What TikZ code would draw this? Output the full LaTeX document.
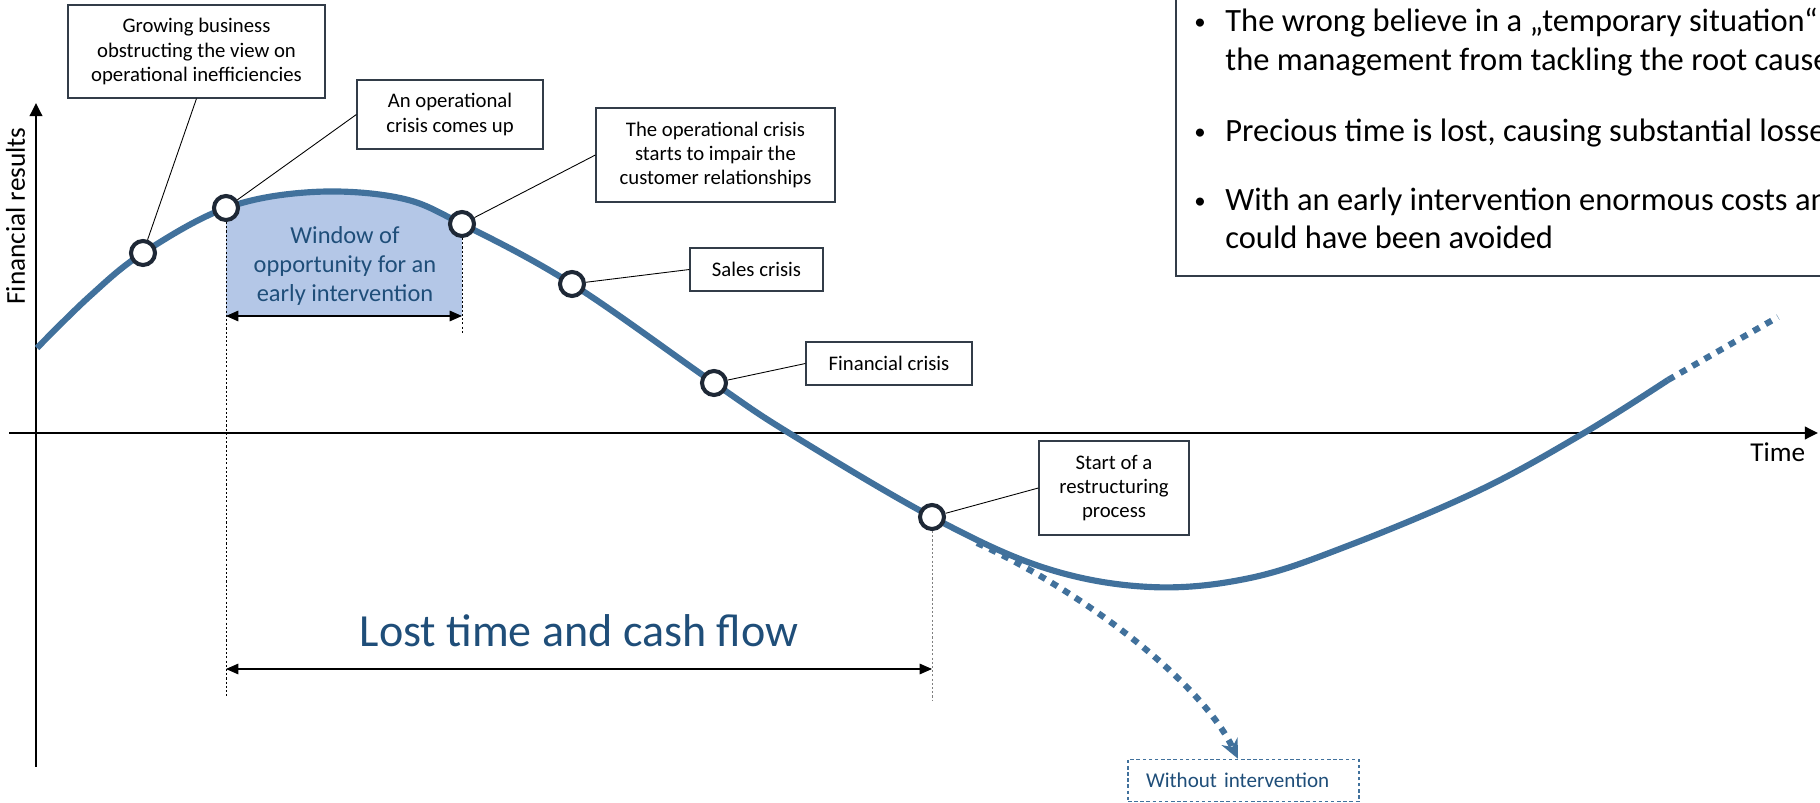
\documentclass[tikz,border=0pt]{standalone}
\usepackage{fontspec}
\setmainfont{Carlito}
\usetikzlibrary{arrows.meta}

\definecolor{curveblue}{RGB}{65,113,156}
\definecolor{winfill}{RGB}{180,199,231}
\definecolor{darkblue}{RGB}{31,78,121}
\definecolor{ringdark}{RGB}{30,40,54}
\definecolor{boxline}{RGB}{50,60,72}

% the solid part of the curve, in pixels of the reference
\def\curvepath{plot[smooth,tension=0.6] coordinates {(37,348) (90,296) (143,253) (226,208) (313,192) (400,198) (462,224) (572,284) (714,383) (789,433) (932,517) (1045,568) (1150,587) (1250,578) (1350,545) (1480,490) (1584,433) (1668,380)}}

\tikzset{
    fincurve/.style={curveblue, line width=3.5pt},
    ring/.style={circle, draw=ringdark, fill=white, line width=2.3pt, minimum size=0.48cm, inner sep=0pt},
    note/.style={draw=boxline, fill=white, line width=0.7pt, align=center, inner sep=2pt,
        font=\fontsize{11.8}{13.9}\selectfont},
    leader/.style={black, line width=0.5pt},
    axisline/.style={line width=1.7pt, -{Triangle[length=7.5pt,width=7pt]}},
    dimarrow/.style={line width=0.6pt, {Triangle[length=7pt,width=6pt]}-{Triangle[length=7pt,width=6pt]}},
    guide/.style={line width=0.5pt, dash pattern=on 1.2pt off 1.2pt},
    bullettext/.style={anchor=base west, inner sep=0pt, font=\fontsize{18.5}{22}\selectfont},
}

\begin{document}
\begin{tikzpicture}[x=0.02cm, y=-0.02cm]
    \useasboundingbox (0,0) rectangle (1820,803);
    \clip (0,0) rectangle (1820,803);

    % window of opportunity
    \begin{scope}
        \clip (226,150) rectangle (462,316);
        \fill[winfill] \curvepath -- (1668,900) -- (37,900) -- cycle;
    \end{scope}

    % axes
    \coordinate (ybot) at (36,767);
    \coordinate (ytop) at (36,103);
    \coordinate (xleft) at (9,433);
    \coordinate (xright) at (1818,433);
    \draw[axisline] (ybot) -- (ytop);
    \draw[axisline] (xleft) -- (xright);
    \node[rotate=90, anchor=base, inner sep=0pt, font=\fontsize{15.5}{18}\selectfont] (finres) at (25,216) {Financial results};
    \node[anchor=base west, inner sep=0pt, font=\fontsize{15.5}{18}\selectfont] (time) at (1750,462) {Time};

    % the curve
    \draw[fincurve] \curvepath;
    \coordinate (solidend) at (1668,380);
    \coordinate (dotend) at (1778,317);
    \draw[fincurve, dash pattern=on 4pt off 4pt] (solidend) -- (dotend);

    % milestones
    \node[ring] (c1) at (143,253) {};
    \node[ring] (c2) at (226,208) {};
    \node[ring] (c3) at (462,224) {};
    \node[ring] (c4) at (572,284) {};
    \node[ring] (c5) at (714,383) {};
    \node[ring] (c6) at (932,517) {};

    % without intervention
    \node[draw=curveblue, dash pattern=on 2pt off 1.5pt, line width=0.8pt, text=darkblue,
        minimum width=4.62cm, minimum height=0.84cm, text width=3.9cm, align=left, inner xsep=0.36cm,
        font=\fontsize{12}{14}\selectfont] (without) at (1243.5,780.5) {Without intervention};
    \coordinate (branch) at (977,543);
    \draw[fincurve, dash pattern=on 4pt off 4pt, -{Stealth[length=11pt,width=10pt]}]
        (branch) .. controls (1080,590) and (1200,680) .. (without.north -| 1238,0);

    % guides
    \draw[guide] (c2.south) -- (226,698);
    \draw[guide] (c3.south) -- (462,333);
    \draw[guide, gray] (c6.south) -- (932,700);

    \coordinate (wl) at (226,316);
    \coordinate (wr) at (462,316);
    \draw[dimarrow] (wl) -- (wr);
    \node[text=darkblue, align=center, font=\fontsize{13.9}{16.5}\selectfont] (window) at (345,266)
        {Window of\\opportunity for an\\early intervention};

    \coordinate (ll) at (226,669);
    \coordinate (lr) at (932,669);
    \draw[dimarrow] (ll) -- (lr);
    \node[text=darkblue, anchor=base, inner sep=0pt, font=\fontsize{26.2}{30}\selectfont] (lost) at (579,647) {Lost time and cash flow};

    % call-outs
    \node[note, minimum width=5.14cm, minimum height=1.86cm] (grow) at (196.5,51.5)
        {Growing business\\obstructing the view on\\operational inefficiencies};
    \node[note, minimum width=3.72cm, minimum height=1.38cm] (opc) at (450,114.5)
        {An operational\\crisis comes up};
    \node[note, minimum width=4.78cm, minimum height=1.88cm] (impair) at (715.5,155)
        {The operational crisis\\starts to impair the\\customer relationships};
    \node[note, minimum width=2.66cm, minimum height=0.86cm] (sales) at (756.5,269.5) {Sales crisis};
    \node[note, minimum width=3.32cm, minimum height=0.86cm] (fincr) at (889,363.5) {Financial crisis};
    \node[note, minimum width=3.0cm, minimum height=1.88cm] (restr) at (1114,488)
        {Start of a\\restructuring\\process};

    \foreach \b / \c in {grow.south/c1, opc.west/c2, impair.west/c3, sales.west/c4, fincr.west/c5, restr.west/c6}
        \draw[leader] (\b) -- (\c);

    % summary box
    \draw[boxline, line width=1.1pt] (1176,-10) rectangle (1840,276);
    \foreach \y in {32,142,211}
        \node[anchor=base, inner sep=0pt, font=\fontsize{13}{16}\selectfont] at (1200,\y-2) {•};
    \node[bullettext] (t1) at (1225,32) {The wrong believe in a „temporary situation“};
    \node[bullettext] (t2) at (1225,71) {the management from tackling the root causes};
    \node[bullettext] (t3) at (1225,142) {Precious time is lost, causing substantial losses};
    \node[bullettext] (t4) at (1225,211) {With an early intervention enormous costs and losses};
    \node[bullettext] (t5) at (1225,249) {could have been avoided};
\end{tikzpicture}
\end{document}
